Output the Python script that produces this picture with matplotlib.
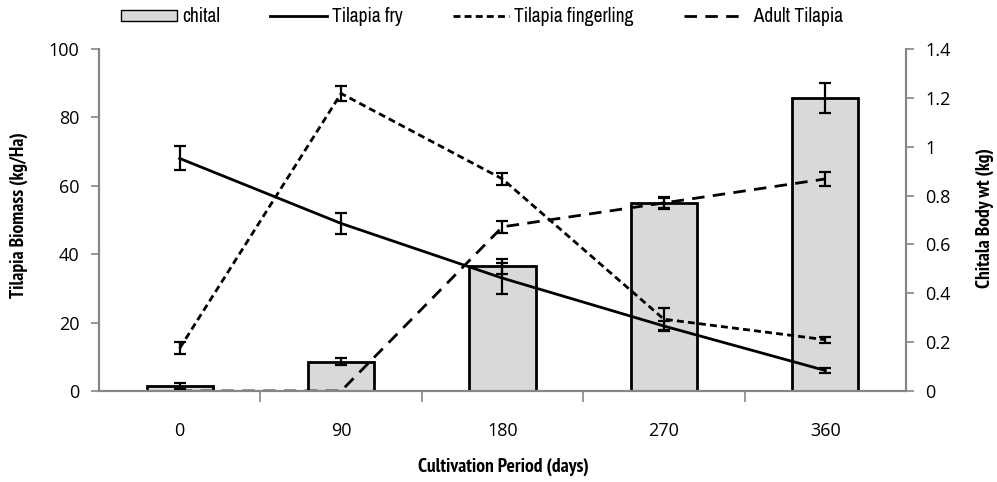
import matplotlib
matplotlib.use("Agg")
import matplotlib.pyplot as plt
import numpy as np
from matplotlib.lines import Line2D
from matplotlib.patches import Patch
from matplotlib import font_manager as fm

days = ["0", "90", "180", "270", "360"]
chital = [0.02, 0.12, 0.51, 0.77, 1.20]
chital_err = [0.012, 0.015, 0.03, 0.02, 0.06]
fry = [68, 49, 33, 19, 6]
fry_err = [3.5, 3.0, 4.5, 1.5, 0.6]
fingerling = [12.5, 87, 62, 21, 15]
fingerling_err = [1.8, 2.2, 1.8, 3.2, 0.9]
adult = [0, 0, 48, 55, 62]
adult_err = [0, 0, 1.8, 1.8, 2.0]

fl = fm.fontManager.ttflist
names = {f.name for f in fl}
def pick(cands, bold=False):
    for c in cands:
        if bold:
            if any(f.name == c and isinstance(f.weight, int) and f.weight >= 700 and f.style == "normal" for f in fl):
                return c
        elif c in names:
            return c
    return "DejaVu Sans"
narrow_list = ["Liberation Sans Narrow", "Arial Narrow", "Archivo Narrow", "PT Sans Narrow",
               "Roboto Condensed", "Open Sans Condensed", "Noto Sans"]
narrow = pick(narrow_list)
narrow_bold = pick(narrow_list, bold=True)
tickfont = pick(["Segoe UI", "Selawik", "Open Sans", "Noto Sans"])
plt.rcParams['font.family'] = [narrow, 'DejaVu Sans']

W, H = 997, 482
fig = plt.figure(figsize=(W / 100, H / 100), dpi=100)
ax = fig.add_axes([0.0993, 0.1888, 0.8094, 0.7095])
ax2 = ax.twinx()

x = np.arange(len(days))
gray = "#868686"
eb = dict(fmt="none", ecolor="black", elinewidth=1.6, capsize=4, capthick=1.6)

ax2.bar(x, chital, width=0.41, color="#d9d9d9", edgecolor="black", linewidth=2, zorder=2)
ax2.errorbar(x, chital, yerr=chital_err, zorder=3, **eb)

ax.set_zorder(ax2.get_zorder() + 1)
ax.patch.set_visible(False)

ax.plot(x, fry, color="black", lw=2)
ax.errorbar(x, fry, yerr=fry_err, **eb)
ax.plot(x, fingerling, color="black", lw=2, dashes=(2.5, 1.5))
ax.errorbar(x, fingerling, yerr=fingerling_err, **eb)
ax.plot(x, adult, color="black", lw=2, dashes=(4.5, 3))
ax.errorbar(x[2:], adult[2:], yerr=adult_err[2:], **eb)

ax.set_xlim(-0.5, 4.5)
ax.set_ylim(0, 100)
ax2.set_ylim(0, 1.4)
ax.set_yticks(np.arange(0, 101, 20))
ax2.set_yticks(np.arange(0, 1.41, 0.2))
ax2.set_yticklabels(["0", "0.2", "0.4", "0.6", "0.8", "1", "1.2", "1.4"])

ax.set_xticks(x)
ax.set_xticklabels(days)
ax.set_xticks(np.arange(0.5, 4.0, 1.0), minor=True)
ax.tick_params(axis="x", which="major", length=0, pad=22, labelsize=13)
ax.tick_params(axis="x", which="minor", length=8, color=gray, width=1.2)
ax.tick_params(axis="y", length=6, color=gray, width=1.2, labelsize=13, pad=8)
ax2.tick_params(axis="y", length=6, color=gray, width=1.2, labelsize=13, pad=8)
for lab in ax.get_xticklabels() + ax.get_yticklabels() + ax2.get_yticklabels():
    lab.set_family([tickfont, "DejaVu Sans"])

for a in (ax, ax2):
    for s in a.spines.values():
        s.set_color(gray)
        s.set_linewidth(1.5)
    a.spines["top"].set_visible(False)

lab_kw = dict(fontsize=14, fontweight="bold", family=[narrow_bold, "DejaVu Sans"], ha="center", va="center")
fig.text(503 / W, 1 - 467 / H, "Cultivation Period (days)", **lab_kw)
fig.text(19 / W, 1 - 215 / H, "Tilapia Biomass (kg/Ha)", rotation=90, **lab_kw)
fig.text(985 / W, 1 - 218 / H, "Chitala Body wt (kg)", rotation=90, **lab_kw)

handles = [
    Patch(facecolor="#d9d9d9", edgecolor="black", linewidth=1),
    Line2D([], [], color="black", lw=2),
    Line2D([], [], color="black", lw=2, dashes=(2.5, 1.5)),
    Line2D([], [], color="black", lw=2, dashes=(4.5, 3)),
]
labels = ["chital", "Tilapia fry", "Tilapia fingerling", "  Adult Tilapia"]
fig.legend(handles, labels, loc="center", bbox_to_anchor=(482 / W, 1 - 17 / H), ncol=4, frameon=False,
           fontsize=14, handlelength=2.9, columnspacing=2.6, handletextpad=0.25, handleheight=0.5)

fig.savefig("out.png", dpi=100)
